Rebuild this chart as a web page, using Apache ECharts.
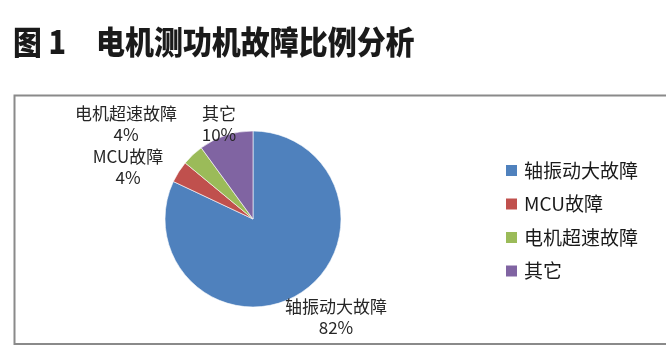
<!DOCTYPE html>
<html>
<head>
<meta charset="utf-8">
<script src="https://cdn.jsdelivr.net/npm/echarts@6/dist/echarts.min.js"></script>
<style>html,body{margin:0;padding:0;background:#fff}#c{width:666px;height:360px}</style>
</head>
<body>
<div id="c"></div>
<script>
const categories = ['轴振动大故障', 'MCU故障', '电机超速故障', '其它'];
const values = [82, 4, 4, 10];
const colors = ['#4F81BD', '#C0504D', '#9BBB59', '#8064A2'];
// label block centres (layout only)
const labelPos = [[336, 317], [128, 167], [126, 124], [219, 124]];

const FONT = '"Noto Sans CJK SC", "Noto Sans", sans-serif';
const chart = echarts.init(document.getElementById('c'), null, {renderer: 'canvas'});
chart.setOption({
  animation: false,
  color: colors,
  graphic: [
    {type: 'text', x: 13, y: 42, scaleX: 0.9, style: {text: '图 1', font: '900 32px ' + FONT, fill: '#1a1a1a', verticalAlign: 'middle'}},
    {type: 'text', x: 96, y: 42, scaleX: 0.905, style: {text: '电机测功机故障比例分析', font: '900 32px ' + FONT, fill: '#1a1a1a', verticalAlign: 'middle'}},
    {type: 'rect', shape: {x: 14.5, y: 95.5, width: 700, height: 248.5}, style: {fill: 'none', stroke: '#8a8a8a', lineWidth: 2}, z: -1}
  ],
  legend: {
    orient: 'vertical',
    left: 499,
    top: 155,
    itemWidth: 13,
    itemHeight: 13,
    itemGap: 12.5,
    icon: 'rect',
    textStyle: {fontFamily: FONT, fontSize: 19, color: '#1a1a1a', lineHeight: 21, padding: [0, 0, 0, 1]},
    data: categories
  },
  series: [{
    type: 'pie',
    center: [253, 219],
    radius: 88,
    startAngle: 90,
    clockwise: true,
    label: {
      show: true,
      formatter: p => p.name + '\n' + p.value + '%',
      fontFamily: FONT,
      fontSize: 17,
      lineHeight: 21,
      color: '#262626',
      align: 'center'
    },
    labelLine: {show: false},
    labelLayout: p => ({x: labelPos[p.dataIndex][0], y: labelPos[p.dataIndex][1], align: 'center', verticalAlign: 'middle'}),
    itemStyle: {borderColor: '#fff', borderWidth: 0.6},
    emphasis: {disabled: true},
    data: categories.map((c, i) => ({name: c, value: values[i]}))
  }]
});
</script>
</body>
</html>
